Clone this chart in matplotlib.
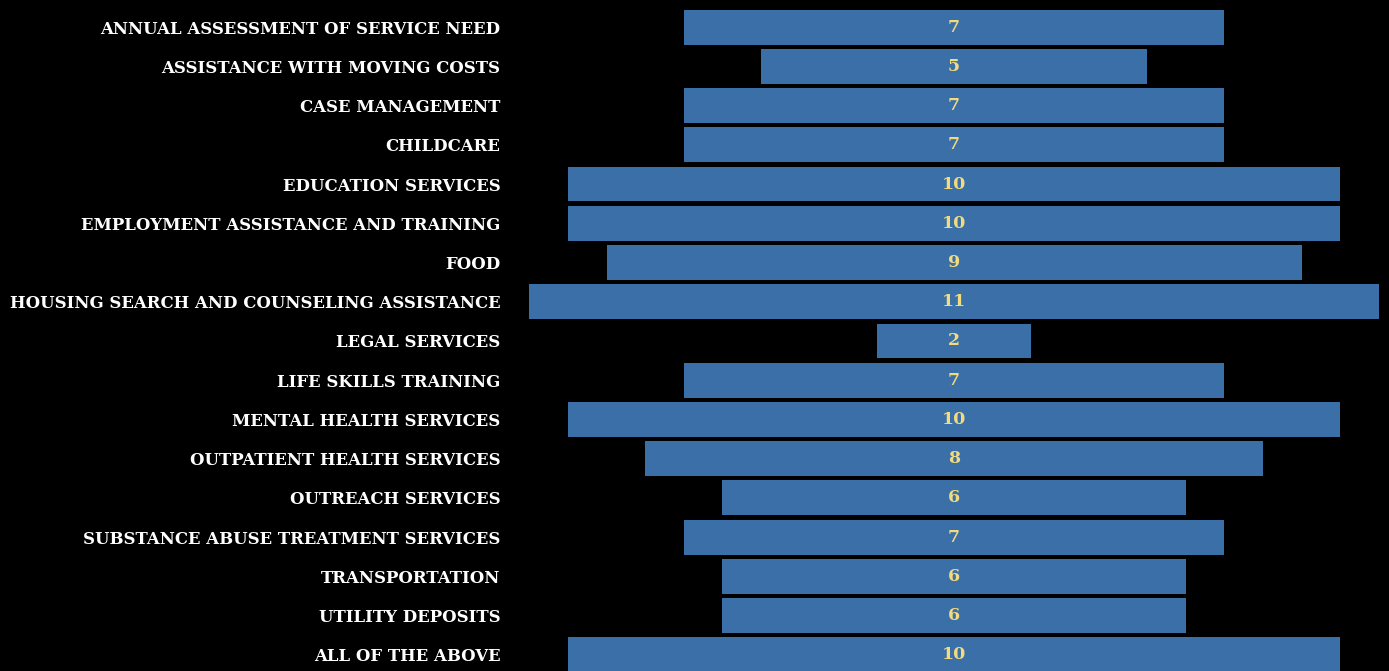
import matplotlib
matplotlib.use("Agg")
import matplotlib.pyplot as plt

services = [
    "ANNUAL ASSESSMENT OF SERVICE NEED",
    "ASSISTANCE WITH MOVING COSTS",
    "CASE MANAGEMENT",
    "CHILDCARE",
    "EDUCATION SERVICES",
    "EMPLOYMENT ASSISTANCE AND TRAINING",
    "FOOD",
    "HOUSING SEARCH AND COUNSELING ASSISTANCE",
    "LEGAL SERVICES",
    "LIFE SKILLS TRAINING",
    "MENTAL HEALTH SERVICES",
    "OUTPATIENT HEALTH SERVICES",
    "OUTREACH SERVICES",
    "SUBSTANCE ABUSE TREATMENT SERVICES",
    "TRANSPORTATION",
    "UTILITY DEPOSITS",
    "ALL OF THE ABOVE",
]
counts = [7, 5, 7, 7, 10, 10, 9, 11, 2, 7, 10, 8, 6, 7, 6, 6, 10]

W, H, DPI = 1389, 671, 100
BG = "#000000"
BAR = "#3b6fa7"
VALUE_COLOR = "#f2da7e"
FONT = "DejaVu Serif"

fig = plt.figure(figsize=(W / DPI, H / DPI), dpi=DPI, facecolor=BG)
ax = fig.add_axes([520 / W, 0, 1 - 520 / W, 1], facecolor=BG)

pos = list(range(len(services)))
lefts = [-c / 2 for c in counts]
ax.barh(pos, counts, left=lefts, height=0.89, color=BAR, edgecolor="none")

for y, c in zip(pos, counts):
    ax.text(0, y, str(c), ha="center", va="center", color=VALUE_COLOR,
            fontsize=12.5, fontweight="bold", family=FONT)

ax.set_xlim(-5.62, 5.63)
ax.set_ylim(16.41, -0.69)
ax.set_yticks(pos)
ax.set_yticklabels(services, family=FONT, fontweight="bold", fontsize=11.9, color="white")
ax.tick_params(axis="y", length=0, pad=14)
ax.set_xticks([])
for s in ax.spines.values():
    s.set_visible(False)

fig.savefig("out.png", dpi=DPI, facecolor=BG)
